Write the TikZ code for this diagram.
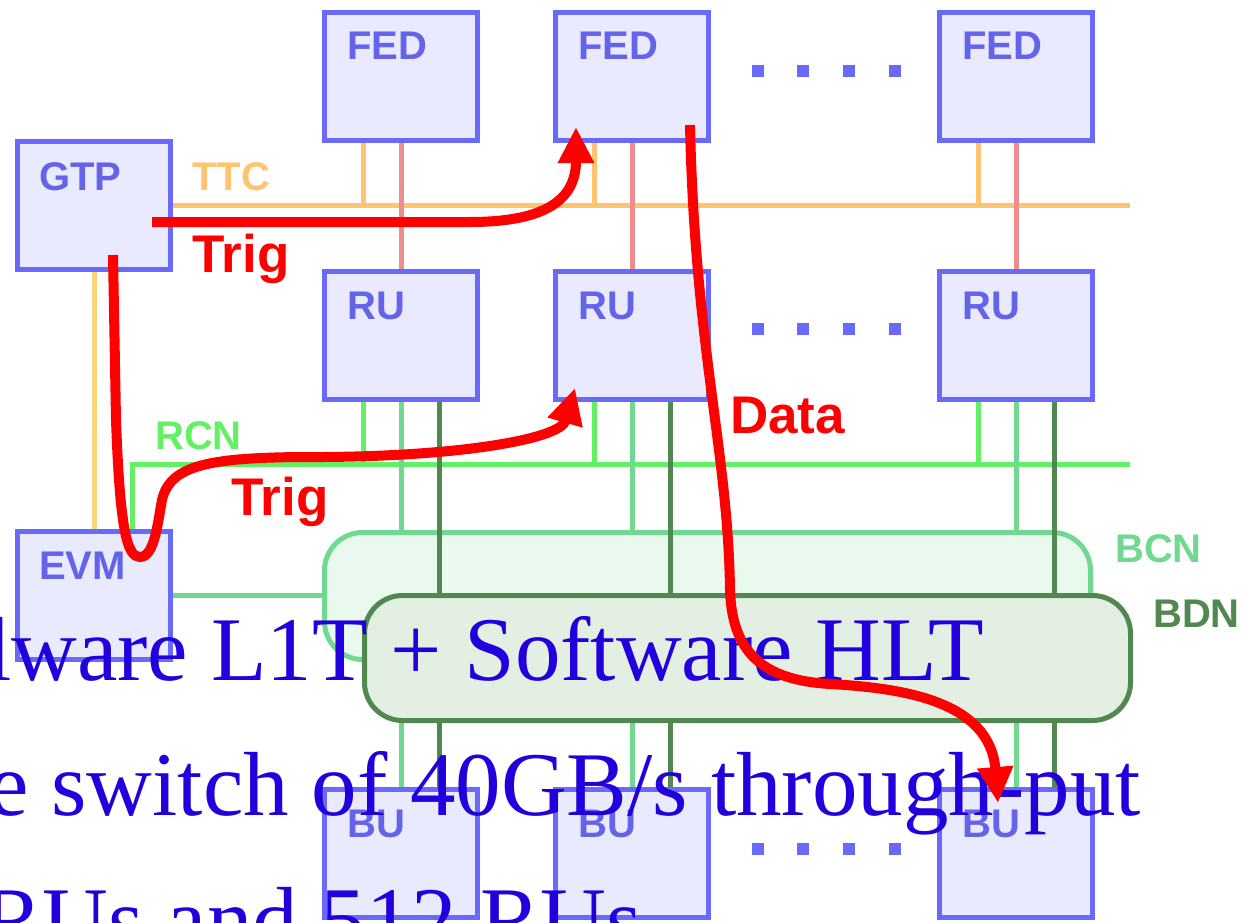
\documentclass[tikz,border=0pt]{standalone}
\usepackage{fontspec}
\setmainfont{Liberation Serif}
\newfontfamily\arialfont{Liberation Sans}
\usetikzlibrary{arrows.meta}
\pgfdeclarelayer{bg}
\pgfsetlayers{bg,main}
\definecolor{boxblue}{RGB}{105,105,250}
\definecolor{boxfill}{RGB}{234,234,255}
\definecolor{lblblue}{RGB}{100,100,235}
\definecolor{ttcorange}{RGB}{255,196,112}
\definecolor{gtpyellow}{RGB}{245,214,120}
\definecolor{fedpink}{RGB}{240,140,140}
\definecolor{rcngreen}{RGB}{100,240,100}
\definecolor{bcngreen}{RGB}{112,216,144}
\definecolor{bdngreen}{RGB}{80,136,80}
\definecolor{bcnfill}{RGB}{234,249,238}
\definecolor{bdnfill}{RGB}{228,239,228}
\definecolor{textblue}{RGB}{34,0,221}
\definecolor{arrowred}{RGB}{255,0,0}
\begin{document}
\begin{tikzpicture}[x=1pt,y=-1pt,
  unit/.style={draw=boxblue, fill=boxfill, line width=5pt, minimum width=153pt, minimum height=128pt, inner sep=0pt, outer sep=0pt},
  ulabel/.style={text=lblblue, font=\arialfont\bfseries\fontsize{40}{40}\selectfont, anchor=base west, inner sep=0pt},
  netlabel/.style={font=\arialfont\bfseries\fontsize{40}{40}\selectfont, anchor=base west, inner sep=0pt},
  redlabel/.style={text=arrowred, font=\arialfont\bfseries\fontsize{53}{53}\selectfont, anchor=base west, inner sep=0pt},
  bigtext/.style={text=textblue, font=\fontsize{91}{91}\selectfont, anchor=base west, inner sep=0pt},
  dotsq/.style={fill=boxblue, minimum size=12pt, inner sep=0pt, draw=none},
  ttcline/.style={draw=ttcorange, line width=5pt},
  gtpline/.style={draw=gtpyellow, line width=5pt},
  fedline/.style={draw=fedpink, line width=5pt},
  rcnline/.style={draw=rcngreen, line width=5pt},
  bcnline/.style={draw=bcngreen, line width=5pt},
  bdnline/.style={draw=bdngreen, line width=5pt},
  bus/.style={rounded corners=38pt, line width=5pt, inner sep=0pt, outer sep=0pt},
  redarrow/.style={draw=arrowred, line width=10pt, -{Triangle[width=34pt,length=36pt]}}
]
\useasboundingbox (0,0) rectangle (1247,923);
\clip (0,0) rectangle (1247,923);

% units
\node[unit] (fed1) at (401,76.5) {};
\node[unit] (fed2) at (632,76.5) {};
\node[unit] (fed3) at (1016,76.5) {};
\node[unit] (gtp) at (94,205.5) {};
\node[unit] (ru1) at (401,335.5) {};
\node[unit] (ru2) at (632,335.5) {};
\node[unit] (ru3) at (1016,335.5) {};
\node[unit] (evm) at (94,595) {};
\node[unit] (bu1) at (401,853.5) {};
\node[unit] (bu2) at (632,853.5) {};
\node[unit] (bu3) at (1016,853.5) {};

\node[ulabel] (lfed1) at (347,60) {FED};
\node[ulabel] (lfed2) at (578,60) {FED};
\node[ulabel] (lfed3) at (962,60) {FED};
\node[ulabel] (lgtp) at (39,190) {GTP};
\node[ulabel] (lru1) at (347,319) {RU};
\node[ulabel] (lru2) at (578,319) {RU};
\node[ulabel] (lru3) at (962,319) {RU};
\node[ulabel] (levm) at (39,579) {EVM};
\node[ulabel] (lbu1) at (347,837) {BU};
\node[ulabel] (lbu2) at (578,837) {BU};
\node[ulabel] (lbu3) at (962,837) {BU};

% dots
\foreach \r/\yy in {a/71,b/329,c/849}{
  \foreach \i/\xx in {1/758,2/803,3/849,4/895}{
    \node[dotsq] (dot\r\i) at (\xx,\yy) {};
  }
}

% network boxes
\begin{pgfonlayer}{bg}
\node[bus, draw=bcngreen, fill=bcnfill, minimum width=766pt, minimum height=127pt] (bcn) at (707.5,596) {};
\end{pgfonlayer}
\node[bus, draw=bdngreen, fill=bdnfill, minimum width=766pt, minimum height=125pt] (bdn) at (747.5,658) {};

\coordinate (ttcend) at (1130,206);
\coordinate (rcnL) at (132,464);
\coordinate (rcnR) at (1130,464);

\begin{pgfonlayer}{bg}
% TTC
\draw[ttcline] (gtp.east) -- (gtp.east -| ttcend);
\foreach \f in {fed1,fed2,fed3}{
  \draw[ttcline] ([xshift=-38pt]\f.south) -- ([xshift=-38pt]\f.south |- ttcend);
}
\draw[gtpline] (gtp) -- (evm);
\draw[fedline] (fed1) -- (ru1);
\draw[fedline] (fed2) -- (ru2);
\draw[fedline] (fed3) -- (ru3);
% RCN
\draw[rcnline] (evm.north -| rcnL) -- (rcnL) -- (rcnR);
\draw[bcnline] (evm.east) -- (evm.east -| bcn.west);
\foreach \u/\b in {ru1/bu1,ru2/bu2,ru3/bu3}{
  \draw[rcnline] ([xshift=-38pt]\u.south) -- ([xshift=-38pt]\u.south |- rcnL);
  \draw[bcnline] (\u.south) -- (\u.south |- bcn.north);
  \draw[bdnline] ([xshift=38pt]\u.south) -- ([xshift=38pt]\u.south |- bdn.north);
  \draw[bcnline] (\b.north |- bdn.south) -- (\b.north);
  \draw[bdnline] ([xshift=38pt]\b.north |- bdn.south) -- ([xshift=38pt]\b.north);
}
\end{pgfonlayer}

% network labels
\node[netlabel, text=ttcorange] (lttc) at (192,190) {TTC};
\node[netlabel, text=rcngreen] (lrcn) at (155,449) {RCN};
\node[netlabel, text=bcngreen] (lbcn) at (1115,562) {BCN};
\node[netlabel, text=bdngreen] (lbdn) at (1153,627) {BDN};

% overlay text
\node[bigtext] (txt1) at (-14,680) {lware L1T + Software HLT};
\node[bigtext] (txt2) at (-12,815) {e switch of 40GB/s through-put};
\node[bigtext] (txt3) at (-18,950) {RUs and 512 RUs};

% red arrows
\coordinate (trigAs) at (152,222);
\coordinate (trigAe) at (576,127);
\coordinate (trigBs) at (113,255);
\coordinate (trigBe) at (575,388);
\coordinate (dataS) at (690,125);
\coordinate (dataE) at (998,803);
\draw[redarrow] (trigAs) -- (470,222) .. controls (545,222) and (576,200) .. (trigAe);
\draw[redarrow] (trigBs) -- (116,420) .. controls (120,530) and (127,557) .. (140,557)
  .. controls (155,557) and (158,520) .. (162,500)
  .. controls (170,465) and (210,458) .. (300,457)
  .. controls (450,458) and (560,440) .. (trigBe);
\draw[redarrow] (dataS) .. controls (695,350) and (728,450) .. (730,590)
  .. controls (732,650) and (760,680) .. (830,684)
  .. controls (900,688) and (990,700) .. (dataE);

\node[redlabel] (ltrig1) at (192,272) {Trig};
\node[redlabel] (ltrig2) at (231,515) {Trig};
\node[redlabel] (ldata) at (730,433) {Data};
\end{tikzpicture}
\end{document}
